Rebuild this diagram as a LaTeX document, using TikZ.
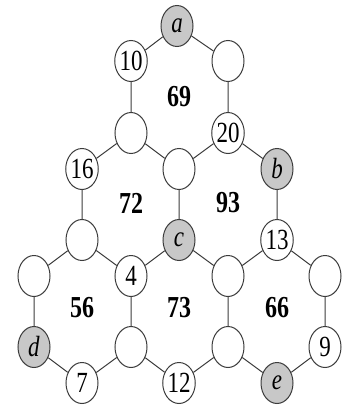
\documentclass[tikz,border=0pt]{standalone}
\usepackage{fontspec}
\setmainfont{Liberation Serif}
\usetikzlibrary{shapes.geometric}
\definecolor{edgegray}{RGB}{60,60,60}
\definecolor{shade}{RGB}{200,200,200}
\newcommand{\tallbox}[1]{\scalebox{1}[1.27]{#1}}

\begin{document}
\begin{tikzpicture}[x=1pt, y=-1pt,
    spot/.style={ellipse, draw=edgegray, line width=1pt, fill=white,
      minimum width=32pt, minimum height=41pt, inner sep=0pt,
      font=\fontsize{23}{23}\selectfont},
    given/.style={spot, fill=shade},
    total/.style={font=\fontsize{24}{24}\selectfont\bfseries},
    link/.style={edgegray, line width=1pt}]
  \useasboundingbox (0,0) rectangle (353,410);
  % --- circles, top to bottom ---
  \node[given] (a)   at (177,26)  {\tallbox{\textit{a}}};
  \node[spot]  (n10) at (131,61)  {\tallbox{10}};
  \node[spot]  (r1)  at (228,61)  {};
  \node[spot]  (l2)  at (131,133) {};
  \node[spot]  (n20) at (228,133) {\tallbox{20}};
  \node[spot]  (n16) at (82,169)  {\tallbox{16}};
  \node[spot]  (m3)  at (179,169) {};
  \node[given] (b)   at (277,169) {\tallbox{\textit{b}}};
  \node[spot]  (l4)  at (82,240)  {};
  \node[given] (c)   at (179,240) {\tallbox{\textit{c}}};
  \node[spot]  (n13) at (277,240) {\tallbox{13}};
  \node[spot]  (o5)  at (34,276)  {};
  \node[spot]  (n4)  at (131,276) {\tallbox{4}};
  \node[spot]  (p5)  at (228,276) {};
  \node[spot]  (q5)  at (325,276) {};
  \node[given] (d)   at (34,347)  {\tallbox{\textit{d}}};
  \node[spot]  (p6)  at (131,347) {};
  \node[spot]  (q6)  at (228,347) {};
  \node[spot]  (n9)  at (325,347) {\tallbox{9}};
  \node[spot]  (n7)  at (82,383)  {\tallbox{7}};
  \node[spot]  (n12) at (179,383) {\tallbox{12}};
  \node[given] (e)   at (277,383) {\tallbox{\textit{e}}};
  % --- hexagon sums ---
  \node[total] (h69) at (179,97)  {\tallbox{69}};
  \node[total] (h72) at (131,203) {\tallbox{72}};
  \node[total] (h93) at (228,203) {\tallbox{93}};
  \node[total] (h56) at (82,308)  {\tallbox{56}};
  \node[total] (h73) at (179,308) {\tallbox{73}};
  \node[total] (h66) at (277,308) {\tallbox{66}};
  % --- edges ---
  \draw[link] (a) -- (n10) (a) -- (r1) (n10) -- (l2) (r1) -- (n20)
    (l2) -- (m3) (n20) -- (m3);
  \draw[link] (l2) -- (n16) (n16) -- (l4) (l4) -- (n4) (n4) -- (c) (m3) -- (c);
  \draw[link] (n20) -- (b) (b) -- (n13) (n13) -- (p5) (c) -- (p5);
  \draw[link] (l4) -- (o5) (o5) -- (d) (d) -- (n7) (n7) -- (p6) (p6) -- (n4);
  \draw[link] (p5) -- (q6) (q6) -- (n12) (n12) -- (p6);
  \draw[link] (n13) -- (q5) (q5) -- (n9) (n9) -- (e) (e) -- (q6);
\end{tikzpicture}
\end{document}
